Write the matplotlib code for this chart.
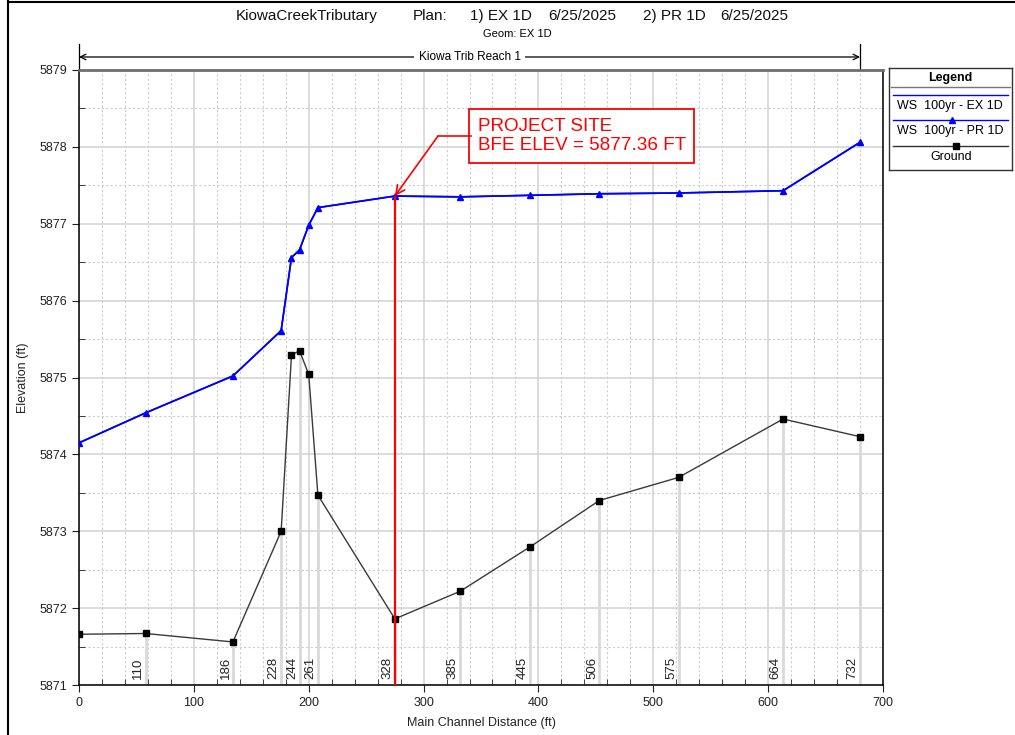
import numpy as np
import matplotlib
matplotlib.use('Agg')
from matplotlib import pyplot as plt
from matplotlib.lines import Line2D
from matplotlib.ticker import MultipleLocator

plt.rcParams['font.family'] = ['Liberation Sans', 'DejaVu Sans']

# main channel distance of every section (ft)
dist = [0, 58, 134, 176, 185, 192, 200, 208, 275, 332, 393, 453, 522, 613, 680]
ws_ex = [5874.15, 5874.54, 5875.02, 5875.61, 5876.56, 5876.66, 5876.98, 5877.21,
         5877.36, 5877.35, 5877.37, 5877.39, 5877.40, 5877.43, 5878.06]
ws_pr = [5874.15, 5874.54, 5875.02, 5875.61, 5876.56, 5876.66, 5876.98, 5877.21,
         5877.36, 5877.35, 5877.37, 5877.39, 5877.40, 5877.43, 5878.06]
ground = [5871.66, 5871.67, 5871.56, 5873.00, 5875.29, 5875.35, 5875.04, 5873.47,
          5871.86, 5872.22, 5872.80, 5873.40, 5873.70, 5874.46, 5874.23]

# labelled river stations (bridge internal sections have no label)
sta_dist = [58, 134, 176, 192, 208, 275, 332, 393, 453, 522, 613, 680]
sta_labels = ['110', '186', '228', '244', '261', '328', '385', '445', '506', '575', '664', '732']

site_dist = 275
bfe = 5877.36

W, H = 1015, 735
fig = plt.figure(figsize=(W / 100, H / 100), dpi=100)
ax = fig.add_axes([79 / W, 1 - 685 / H, (883 - 79) / W, (685 - 70) / H])

ymin, ymax = 5871, 5879
ax.set_xlim(0, 700)
ax.set_ylim(ymin, ymax)

# grid
ax.xaxis.set_major_locator(MultipleLocator(100))
ax.xaxis.set_minor_locator(MultipleLocator(20))
ax.yaxis.set_major_locator(MultipleLocator(1))
ax.yaxis.set_minor_locator(MultipleLocator(0.5))
ax.set_yticks(range(ymin, ymax + 1), [str(v) for v in range(ymin, ymax + 1)])
ax.set_axisbelow(True)
ax.grid(which='major', color='#d2d2d2', lw=1.1)
ax.grid(which='minor', color='#cdcdcd', lw=0.8, ls=(0, (2, 2)))

# station lines, bottom to ground
sta_ground = np.interp(sta_dist, dist, ground)
ax.vlines(sta_dist, ymin, sta_ground, color='#d9d9d9', lw=2, zorder=1)
for d, lab in zip(sta_dist, sta_labels):
    ax.annotate(lab, (d, ymin), xytext=(-1, 4), textcoords='offset points',
                rotation=90, ha='right', va='bottom', fontsize=9.5, color='#222222')

ax.plot(dist, ground, color='#3a3a3a', lw=1, marker='s', ms=5,
        mfc='black', mec='black', zorder=3)
ax.plot(dist, ws_ex, color='blue', lw=1.2, zorder=4)
ax.plot(dist, ws_pr, color='blue', lw=1.2, marker='^', ms=5, zorder=5)

# project site callout
ax.vlines(site_dist, ymin, bfe, color='red', lw=1.6, zorder=6)
ax.text(347, 5878.14, 'PROJECT SITE\nBFE ELEV = 5877.36 FT', color='red', fontsize=13.6,
        ha='left', va='center', linespacing=1.2, zorder=7,
        bbox=dict(boxstyle='square,pad=0.45', fc='white', ec='red', lw=1.3))
ax.plot([341, 312.5], [5878.14, 5878.14], color='red', lw=1.2, zorder=7)
ax.annotate('', xy=(site_dist, bfe), xytext=(312.5, 5878.14),
            arrowprops=dict(arrowstyle='->', color='red', lw=1.2,
                            shrinkA=0, shrinkB=0, mutation_scale=16), zorder=7)

# reach extent above the plot
ry = ymax + 13 / 76.8
ax.annotate('', xy=(0, ry), xytext=(dist[-1], ry), annotation_clip=False,
            arrowprops=dict(arrowstyle='<->', color='black', lw=0.9,
                            shrinkA=0, shrinkB=0, mutation_scale=10))
for d in (0, dist[-1]):
    ax.plot([d, d], [ymax, ymax + 26 / 76.8], color='black', lw=0.9, clip_on=False)
ax.text(340, ry, 'Kiowa Trib Reach 1', fontsize=8.5, ha='center', va='center',
        bbox=dict(boxstyle='square,pad=0.4', fc='white', ec='none'))

# axes styling
for s in ('left', 'bottom', 'right'):
    ax.spines[s].set_color('black')
    ax.spines[s].set_linewidth(1.1)
ax.spines['top'].set_color('#6e6e6e')
ax.spines['top'].set_linewidth(2)
ax.tick_params(which='major', direction='out', length=5, labelsize=9, colors='#222222')
ax.tick_params(which='minor', direction='in', length=4, color='#222222')
ax.set_ylabel('Elevation (ft)', fontsize=9, color='#222222')
ax.yaxis.set_label_coords((29 - 79) / 804, 0.5)
ax.set_xlabel('Main Channel Distance (ft)', fontsize=9, color='#222222')
ax.xaxis.set_label_coords(0.5, (685 - 717) / 615)

# title
ty = 1 - 16 / H
for x, s in [(236, 'KiowaCreekTributary'), (413, 'Plan:'), (470, '1) EX 1D'),
             (548, '6/25/2025'), (643, '2) PR 1D'), (720, '6/25/2025')]:
    fig.text(x / W, ty, s, fontsize=11, ha='left', va='center', color='#111111')
fig.text(517 / W, 1 - 34 / H, 'Geom: EX 1D', fontsize=8, ha='center', va='center')

# page frame
fig.add_artist(Line2D([8 / W, 8 / W], [0, 1], color='black', lw=1.5))
fig.add_artist(Line2D([8 / W, 1], [1 - 1.5 / H, 1 - 1.5 / H], color='black', lw=1.5))

# legend box (pixel coordinates)
lg = fig.add_axes([889 / W, 1 - 170 / H, 123 / W, 102 / H])
lg.set_xlim(889, 1012)
lg.set_ylim(170, 68)
lg.set_xticks([])
lg.set_yticks([])
for s in lg.spines.values():
    s.set_color('#333333')
    s.set_linewidth(1)
lg.text(950, 77.5, 'Legend', fontsize=9, fontweight='bold', ha='center', va='center')
lg.plot([891, 1010], [87, 87], color='#777777', lw=1)
lg.plot([893, 1008], [95, 95], color='blue', lw=1)
lg.text(950, 106, 'WS  100yr - EX 1D', fontsize=9, ha='center', va='center')
lg.plot([893, 1008], [120, 120], color='blue', lw=1)
lg.plot([952], [120], color='blue', marker='^', ms=5)
lg.text(950, 131, 'WS  100yr - PR 1D', fontsize=9, ha='center', va='center')
lg.plot([893, 1008], [146, 146], color='#333333', lw=1)
lg.plot([956], [146], color='black', marker='s', ms=4.5)
lg.text(951, 156.5, 'Ground', fontsize=9, ha='center', va='center')

fig.savefig('out.png', dpi=100)
